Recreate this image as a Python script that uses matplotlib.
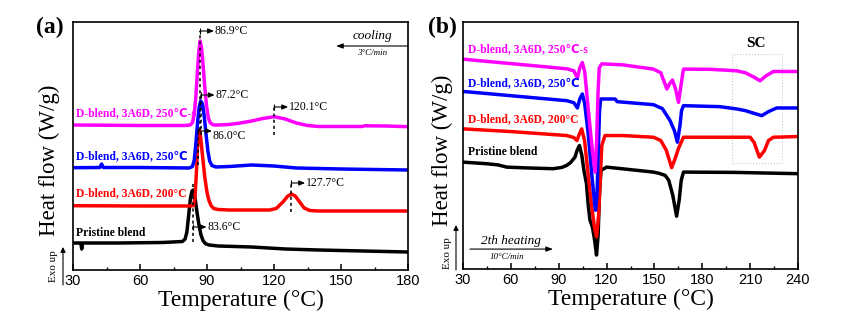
import matplotlib
matplotlib.use("Agg")
import matplotlib.pyplot as plt
from matplotlib.patches import Rectangle, FancyArrowPatch
from matplotlib.ticker import MultipleLocator

# DSC curves, cooling scan (a): temperature (°C) and heat flow (arb. units, offset)
cool_black_t = [30, 33.5, 33.9, 34.3, 50, 70, 79, 80.2, 81, 81.8, 82.6, 83.3, 83.9, 84.6,
                85.5, 86.4, 87.3, 88.3, 89.5, 91, 95, 110, 125, 140, 160, 180]
cool_black_q = [2.7, 2.7, 2.1, 2.7, 2.7, 2.75, 2.85, 3.1, 3.8, 5.5, 7.2, 7.9, 8.0, 7.3,
                5.8, 4.5, 3.5, 2.9, 2.6, 2.5, 2.4, 2.3, 2.1, 2.0, 1.9, 1.8]

cool_red_t = [30, 60, 82, 84, 84.6, 85.2, 85.7, 86.2, 86.6, 87.2, 88, 89, 89.9, 90.8, 91.8,
              93, 95, 100, 110, 118, 121, 124, 126, 127.7, 129.5, 131.5, 133.5, 136, 140, 160, 180]
cool_red_q = [6.43, 6.4, 6.4, 6.45, 7.2, 9.5, 12.0, 13.8, 14.0, 13.2, 11.4, 9.3, 7.9, 7.0,
              6.45, 6.15, 6.05, 6.0, 6.0, 6.0, 6.15, 6.8, 7.35, 7.6, 7.4, 6.8, 6.2, 5.95,
              5.9, 5.9, 5.9]

cool_blue_t = [30, 42, 42.8, 43.6, 60, 82, 83.5, 84.3, 85, 85.8, 86.5, 87.2, 88, 88.8, 89.6,
               90.4, 91.2, 92.2, 94, 100, 110, 120, 130, 150, 180]
cool_blue_q = [10.23, 10.25, 10.6, 10.25, 10.25, 10.2, 10.35, 11.0, 12.6, 14.8, 16.3, 16.9,
               16.6, 15.3, 13.5, 11.9, 10.9, 10.45, 10.3, 10.35, 10.5, 10.4, 10.2, 10.1, 10.0]

cool_mag_t = [30, 60, 80, 82.5, 83.5, 84.3, 85, 85.7, 86.3, 86.9, 87.5, 88.2, 89, 89.8, 90.6,
              91.5, 93, 95, 100, 105, 110, 115, 120.1, 125, 130, 135, 140, 150, 159.5, 160.5,
              170, 180]
cool_mag_q = [14.5, 14.45, 14.45, 14.5, 14.75, 15.6, 17.3, 19.8, 21.8, 22.9, 22.3, 20.6,
              18.3, 16.4, 15.2, 14.7, 14.5, 14.5, 14.55, 14.7, 14.9, 15.15, 15.33, 15.1, 14.7,
              14.45, 14.35, 14.35, 14.35, 14.42, 14.4, 14.33]

# DSC curves, second heating (b)
heat_black_t = [30, 44.9, 52, 57.4, 70, 86.6, 92, 95, 97.5, 100.2, 101.5, 103, 104.5, 105.8,
                107.4, 108.5, 109.6, 111.1, 112.5, 113.7, 114.7, 115.5, 116.5, 120, 149.4,
                153, 156.7, 159, 161.5, 163.9, 165.5, 166.8, 168.2, 200, 240]
heat_black_q = [10.73, 10.57, 10.45, 10.23, 10.15, 10.07, 10.2, 10.4, 10.7, 11.23, 11.9,
                12.4, 11.4, 9.9, 8.57, 6.4, 4.9, 4.23, 2.9, 1.4, 3.4, 7.4, 9.9, 10.23, 9.73,
                9.6, 9.4, 8.9, 7.4, 5.3, 6.9, 8.9, 9.73, 9.7, 9.57]

heat_red_t = [30, 60, 95, 99.5, 101.4, 102.8, 104.4, 106.2, 108.2, 110.2, 112.2, 113.7, 115,
              116, 117, 119, 130, 149.4, 154, 157.5, 160.8, 163, 165, 168.2, 210, 212.5,
              215.8, 219, 221.5, 224.6, 240]
heat_red_q = [14.07, 13.8, 13.4, 13.2, 12.9, 13.5, 14.07, 12.9, 9.9, 6.9, 4.4, 3.23, 5.4,
              8.9, 12.4, 13.4, 13.4, 13.23, 12.9, 11.9, 10.17, 11.1, 12.07, 13.23, 13.23,
              12.7, 11.23, 11.9, 12.9, 13.23, 13.3]

heat_blue_t = [30, 60, 95, 99.5, 101.7, 103.3, 104.8, 106.3, 108.6, 110.8, 112.3, 113.1,
               114.0, 114.8, 115.6, 116.3, 125.3, 126.7, 149.4, 155, 159.8, 162.5, 164.4,
               166, 167, 168.2, 191, 201.6, 207, 212, 217.3, 221.5, 226.6, 240]
heat_blue_q = [17.83, 17.4, 16.9, 16.7, 16.17, 17.1, 17.57, 16.6, 13.4, 9.4, 6.9, 5.9, 7.4,
               11.9, 15.9, 17.07, 17.07, 16.8, 16.5, 16.1, 14.9, 13.9, 12.73, 14.4, 15.9,
               16.4, 16.3, 16.07, 15.9, 15.65, 15.4, 15.8, 16.17, 16.17]

heat_mag_t = [30, 95.2, 99.5, 101.7, 103.2, 104.8, 106.3, 108.6, 111.1, 112.8, 113.8, 114.6,
              115.4, 117, 130, 149.4, 154, 157.8, 159.5, 161.3, 163.2, 165.1, 166.6, 168.2,
              185, 201.6, 207, 212, 216.2, 220, 224.6, 240]
heat_mag_q = [21.07, 20.1, 19.9, 19.17, 20.2, 20.73, 19.8, 15.9, 11.9, 9.73, 13.0, 17.5,
              20.2, 20.6, 20.5, 20.07, 19.7, 18.07, 18.6, 18.97, 18.1, 16.73, 18.4, 20.07,
              20.05, 19.9, 19.7, 19.3, 18.9, 19.4, 19.83, 19.83]

sample_names = ["Pristine blend", "D-blend, 3A6D, 200°C", "D-blend, 3A6D, 250℃",
                "D-blend, 3A6D, 250℃-s"]
colors = ["black", "red", "blue", "magenta"]

# peak temperatures marked on the cooling curves: (T, arrow height)
cool_peaks = [(86.9, 23.9), (87.2, 17.5), (86.0, 13.9), (120.1, 16.3), (127.7, 8.7), (83.6, 4.3)]
cool_peak_drop = [14.0, 13.5, 10.5, 13.5, 5.8, 2.8]
cool_peak_top = [23.9, 17.5, 13.9, 16.3, 8.7, 8.8]

serif = ["Liberation Serif", "DejaVu Sans"]
plt.rcParams["font.family"] = ["Liberation Sans", "DejaVu Sans"]

fig = plt.figure(figsize=(8.6, 3.33), dpi=100)
ax_a = fig.add_axes([73 / 860, 63 / 333, 335 / 860, 248 / 333])
ax_b = fig.add_axes([463 / 860, 64 / 333, 335 / 860, 247 / 333])

cool = [(cool_black_t, cool_black_q), (cool_red_t, cool_red_q),
        (cool_blue_t, cool_blue_q), (cool_mag_t, cool_mag_q)]
heat = [(heat_black_t, heat_black_q), (heat_red_t, heat_red_q),
        (heat_blue_t, heat_blue_q), (heat_mag_t, heat_mag_q)]

for (t, q), c in zip(cool, colors):
    ax_a.plot(t, q, color=c, lw=2.5, solid_joinstyle="round")
for (t, q), c in zip(heat, colors):
    ax_b.plot(t, q, color=c, lw=2.5, solid_joinstyle="round")

for ax, xmax in ((ax_a, 180), (ax_b, 240)):
    ax.set_xlim(30, xmax)
    ax.set_ylim(0, 24.8)
    ax.set_yticks([])
    ax.xaxis.set_major_locator(MultipleLocator(30))
    ax.xaxis.set_minor_locator(MultipleLocator(15))
    ax.tick_params(axis="x", which="both", direction="in", top=False, labelsize=10.5, pad=3)
    ax.tick_params(axis="x", which="major", length=4, width=1.1)
    ax.tick_params(axis="x", which="minor", length=2.5, width=1.0)
    for s in ax.spines.values():
        s.set_linewidth(1.2)
    ax.set_xlabel("Temperature (°C)", family=serif, fontsize=17, labelpad=1)
    ax.set_ylabel("Heat flow (W/g)", family=serif, fontsize=16.5)

ax_a.yaxis.set_label_coords(-0.039, 0.444)
ax_b.yaxis.set_label_coords(-0.030, 0.482)

# curve labels
lab_kw = dict(family=serif, fontsize=8.4, fontweight="bold", va="center", ha="left")
for name, c, y in zip(sample_names, colors, [3.7, 7.7, 11.4, 15.7]):
    ax_a.text(31.3, y, name, color=c, **lab_kw)
for name, c, y in zip(sample_names, colors, [11.7, 15.0, 18.7, 22.1]):
    ax_b.text(33.1, y, name, color=c, **lab_kw)

# peak markers on the cooling scan
arrow_kw = dict(arrowstyle="-|>,head_length=0.35,head_width=0.15", color="black", lw=0.8,
                shrinkA=0, shrinkB=0)
text_shift = [0, 0, -0.5, 0, 0, 0]
for (tp, ya), ylo, yhi, dy in zip(cool_peaks, cool_peak_drop, cool_peak_top, text_shift):
    ax_a.plot([tp, tp], [ylo, yhi], color="black", lw=1.1, ls=(0, (2, 2)))
    ax_a.plot(tp, ya, marker="|", ms=5, mew=0.8, color="black")
    ax_a.annotate("", xy=(tp + 6.2, ya), xytext=(tp, ya), arrowprops=arrow_kw)
    ax_a.text(tp + 6.5, ya + dy, f"{tp:.1f}°C", family=serif, fontsize=8.5,
              va="center", ha="left")

# scan direction notes
ax_a.text(163.9, 23.4, "cooling", family=serif, style="italic", fontsize=9.5, ha="center", va="center")
ax_a.text(163.7, 21.7, "3°C/min", family=serif, style="italic", fontsize=6.5, ha="center", va="center")
ax_a.annotate("", xy=(147.8, 22.4), xytext=(180, 22.4),
              arrowprops=dict(arrowstyle="-|>,head_length=0.4,head_width=0.15", color="black",
                              lw=0.8, shrinkA=0, shrinkB=0))

ax_b.text(59.8, 2.8, "2th heating", family=serif, style="italic", fontsize=9.5, ha="center", va="center")
ax_b.text(57.6, 1.2, "10°C/min", family=serif, style="italic", fontsize=6.5, ha="center", va="center")
ax_b.annotate("", xy=(86.4, 2.0), xytext=(34.4, 2.0),
              arrowprops=dict(arrowstyle="-|>,head_length=0.4,head_width=0.15", color="black",
                              lw=0.8, shrinkA=0, shrinkB=0))

ax_b.text(213.7, 22.6, "SC", family=serif, fontsize=11, fontweight="bold", ha="center", va="center")
ax_b.add_patch(Rectangle((198.7, 10.6), 31.3, 11.0, fill=False, ec="#c8c8c8", lw=0.8, ls=":"))

# panel letters and exotherm direction
fig.text(50 / 860, 1 - 27 / 333, "(a)", family=serif, fontsize=17, fontweight="bold", ha="center", va="center")
fig.text(442 / 860, 1 - 27 / 333, "(b)", family=serif, fontsize=17, fontweight="bold", ha="center", va="center")
for tx, ax_x, y0, y1, ty in ((53, 63, 285, 247, 266), (447, 456, 270, 225, 253)):
    fig.text(tx / 860, 1 - ty / 333, "Exo up", family=serif, fontsize=8, rotation=90,
             ha="center", va="center")
    fig.add_artist(FancyArrowPatch(
        (ax_x / 860, 1 - y0 / 333), (ax_x / 860, 1 - y1 / 333), transform=fig.transFigure,
        arrowstyle="-|>,head_length=3,head_width=1.5", color="black", lw=0.8,
        shrinkA=0, shrinkB=0))

fig.savefig("out.png", dpi=100)
